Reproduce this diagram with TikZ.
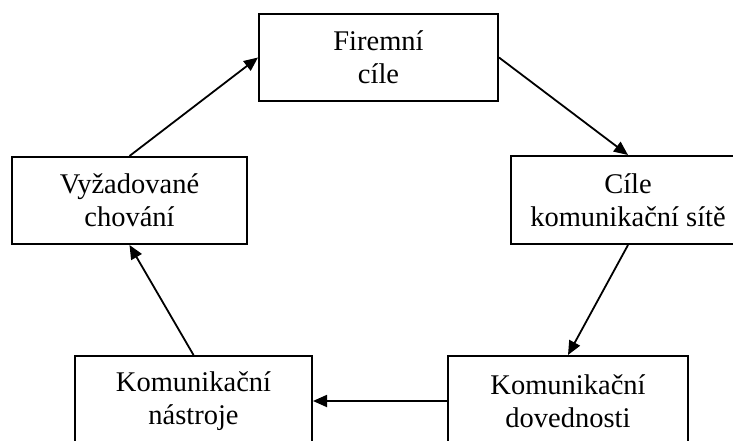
\documentclass[tikz,border=0pt]{standalone}
\usepackage{fontspec}
\setmainfont{Liberation Serif}
\usetikzlibrary{arrows.meta}
\begin{document}
\begin{tikzpicture}[x=1pt,y=-1pt,
  box/.style={draw=black,line width=2pt,fill=white,inner sep=0pt,align=center,
    font=\fontsize{28.5}{33}\selectfont},
  conn/.style={line width=1.8pt,-{Triangle[length=14pt,width=12pt]}}]
\useasboundingbox (0,0) rectangle (733,441);
\node[box,minimum width=239pt,minimum height=87pt] (firm) at (378.5,57.5) {Firemní\\cíle};
\node[box,minimum width=234pt,minimum height=88pt] (cile) at (628,200) {Cíle\\komunikační sítě};
\node[box,minimum width=240pt,minimum height=90pt] (dov) at (568,401) {Komunikační\\dovednosti};
\node[box,minimum width=237pt,minimum height=90pt] (nas) at (193.5,401) {Komunikační\\nástroje};
\node[box,minimum width=235pt,minimum height=87pt] (vyz) at (129.5,200.5) {Vyžadované\\chování};
\draw[conn] (firm.east) -- (cile.north);
\draw[conn] (cile.south) -- (dov.north);
\draw[conn] (dov.west) -- (nas.east);
\draw[conn] (nas.north) -- (vyz.south);
\draw[conn] (vyz.north) -- (firm.west);
\end{tikzpicture}
\end{document}
